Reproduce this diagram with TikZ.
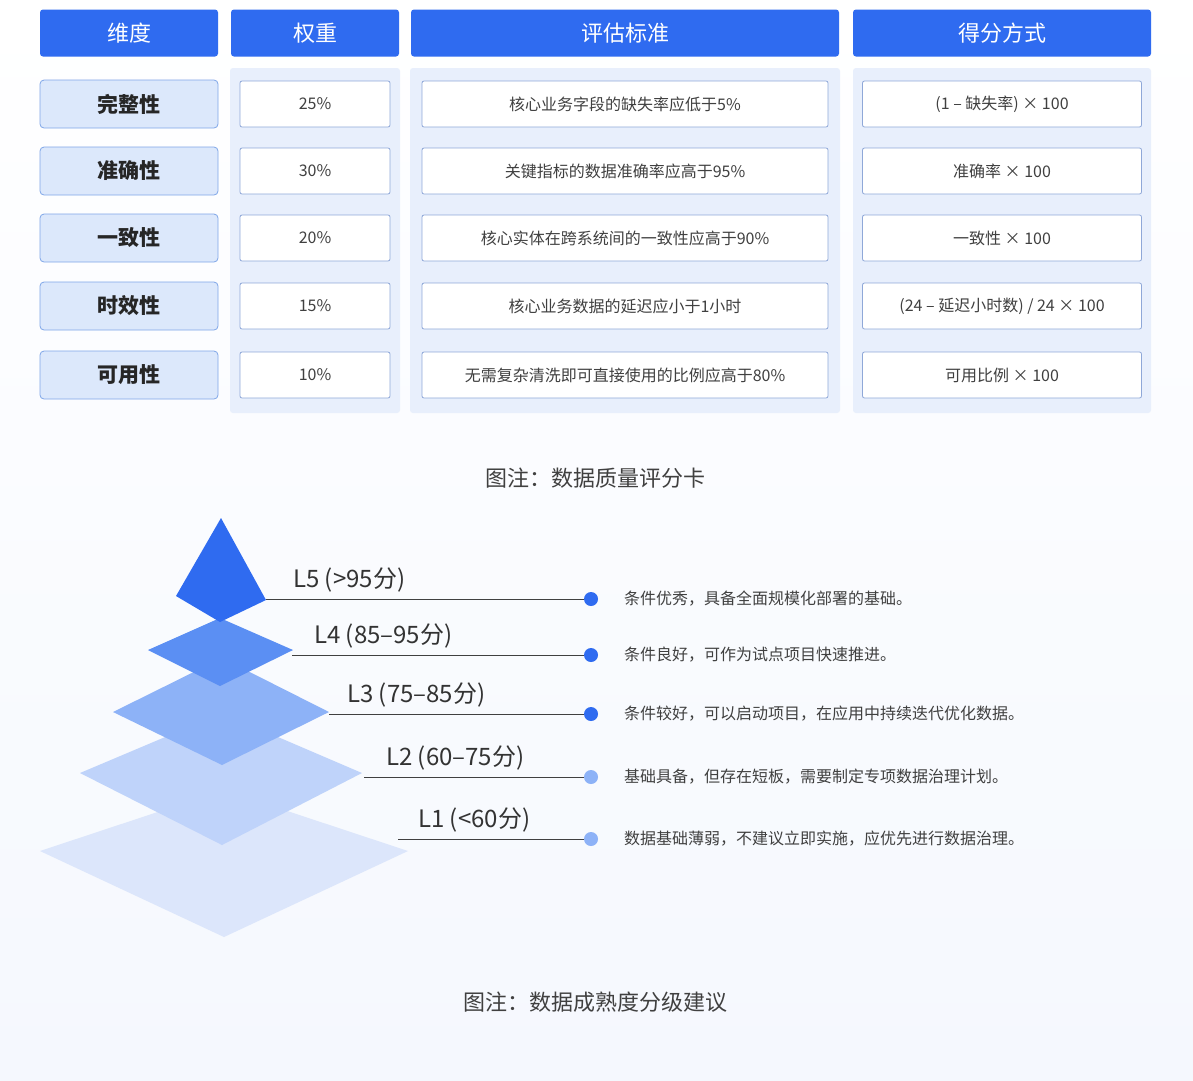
\documentclass[tikz,border=0pt]{standalone}
\usepackage{fontspec}
\setmainfont{Noto Sans CJK SC}
\begin{document}
\begin{tikzpicture}[x=1pt,y=-1pt,
 hdr/.style={fill=hblue,rounded corners=3pt,text=white,font=\fontsize{22}{24}\selectfont,minimum height=47pt,inner sep=0pt},
 dimc/.style={fill=dimfill,draw=dimline,line width=0.8pt,rounded corners=4pt,minimum width=178pt,minimum height=48pt,font=\fontsize{21}{24}\selectfont\bfseries,text=black!85,inner sep=0pt},
 cell/.style={fill=white,draw=cellline,line width=0.8pt,rounded corners=2pt,minimum height=46pt,font=\fontsize{16}{18}\selectfont,text=black!75,inner sep=0pt},
 lvl/.style={anchor=south west,font=\fontsize{24}{26}\selectfont,text=black!80,inner sep=1pt},
 desc/.style={anchor=west,font=\fontsize{16}{18}\selectfont,text=black!75,inner sep=0pt},
 lline/.style={draw=black!75,line width=0.9pt},
 capt/.style={font=\fontsize{22}{24}\selectfont,text=black!75}]
\definecolor{hblue}{HTML}{2F6BF0}
\definecolor{dimfill}{HTML}{DCE8FB}
\definecolor{dimline}{HTML}{7FA6E8}
\definecolor{cellline}{HTML}{8FA8D8}
\definecolor{panel}{HTML}{E8EFFC}
\definecolor{bgc}{HTML}{F5F8FE}
\definecolor{c1}{HTML}{DCE6FB}
\definecolor{c2}{HTML}{BFD3FA}
\definecolor{c3}{HTML}{8DB2F7}
\definecolor{c4}{HTML}{5B8FF3}
\definecolor{c5}{HTML}{2F6BF0}
\useasboundingbox (0,0) rectangle (1193,1080);
\shade[top color=white,bottom color=bgc] (0,0) rectangle (1193,1080);
% panels
\fill[panel,rounded corners=3pt] (230,68) rectangle (400,413);
\fill[panel,rounded corners=3pt] (410,68) rectangle (840,413);
\fill[panel,rounded corners=3pt] (853,68) rectangle (1151,413);
% headers
\node[hdr,minimum width=178pt] (h1) at (129,33) {维度};
\node[hdr,minimum width=168pt] (h2) at (315,33) {权重};
\node[hdr,minimum width=428pt] (h3) at (625,33) {评估标准};
\node[hdr,minimum width=298pt] (h4) at (1002,33) {得分方式};
% rows
\foreach \y/\a/\b/\c/\d [count=\i] in {
 104/完整性/25\%/核心业务字段的缺失率应低于5\%/{(1 – 缺失率) × 100},
 171/准确性/30\%/关键指标的数据准确率应高于95\%/{准确率 × 100},
 238/一致性/20\%/核心实体在跨系统间的一致性应高于90\%/{一致性 × 100},
 306/时效性/15\%/核心业务数据的延迟应小于1小时/{(24 – 延迟小时数) / 24 × 100},
 375/可用性/10\%/无需复杂清洗即可直接使用的比例应高于80\%/{可用比例 × 100}}{
 \node[dimc] (d\i) at (129,\y) {\a};
 \node[cell,minimum width=150pt] (w\i) at (315,\y) {\b};
 \node[cell,minimum width=406pt] (s\i) at (625,\y) {\c};
 \node[cell,minimum width=279pt] (f\i) at (1002,\y) {\d};
}
\node[capt] (cap1) at (595,478) {图注：数据质量评分卡};
% pyramid
\fill[c1] (40,851) -- (224,790) -- (408,851) -- (224,937) -- cycle;
\fill[c2] (80,773) -- (222,713) -- (362,773) -- (222,845) -- cycle;
\fill[c3] (113,712) -- (222,658) -- (329,712) -- (222,765) -- cycle;
\fill[c4] (148,650) -- (220,618) -- (293,650) -- (220,686) -- cycle;
\fill[c5] (221,518) -- (266,600) -- (220,622) -- (176,596) -- cycle;
% levels
\foreach \i/\sx/\y/\dx/\lab/\dc/\txt in {
 5/266/599/26/L5 (>95分)/c5/条件优秀，具备全面规模化部署的基础。,
 4/292/655/21/L4 (85–95分)/c5/条件良好，可作为试点项目快速推进。,
 3/329/714/17/L3 (75–85分)/c5/条件较好，可以启动项目，在应用中持续迭代优化数据。,
 2/364/777/21/L2 (60–75分)/c3/基础具备，但存在短板，需要制定专项数据治理计划。,
 1/398/839/19/L1 (<60分)/c3/数据基础薄弱，不建议立即实施，应优先进行数据治理。}{
 \coordinate (ls\i) at (\sx,\y);
 \node[circle,fill=\dc,minimum size=14pt,inner sep=0pt] (dot\i) at (591,\y) {};
 \draw[lline] (ls\i) -- (dot\i.west);
 \node[lvl] (lab\i) at ([xshift=\dx pt,yshift=6pt]ls\i) {\lab};
 \node[desc] (t\i) at (624,\y) {\txt};
}
\node[capt] (cap2) at (595,1002) {图注：数据成熟度分级建议};
\end{tikzpicture}
\end{document}
